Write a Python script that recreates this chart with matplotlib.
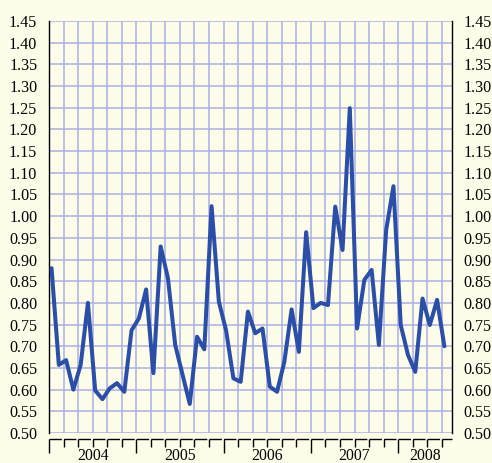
import numpy as np
import matplotlib
matplotlib.use("Agg")
import matplotlib.pyplot as plt
import matplotlib.transforms as mtransforms

# monthly values, Jan 2004 .. Jul 2008
values = [0.88, 0.657, 0.668, 0.60, 0.657, 0.80, 0.598, 0.578, 0.603, 0.615,
          0.595, 0.737, 0.764, 0.831, 0.638, 0.93, 0.857, 0.703, 0.635, 0.567,
          0.722, 0.693, 1.023, 0.803, 0.736, 0.626, 0.618, 0.78, 0.730, 0.741,
          0.607, 0.595, 0.664, 0.785, 0.687, 0.963, 0.788, 0.80, 0.795, 1.022,
          0.922, 1.249, 0.741, 0.853, 0.876, 0.703, 0.968, 1.069, 0.749, 0.68,
          0.641, 0.81, 0.749, 0.807, 0.70]
years = ["2004", "2005", "2006", "2007", "2008"]
y_ticks = np.round(np.arange(0.50, 1.4501, 0.05), 2)

bg = "#fdfde9"
grid_c = "#aab0e6"
line_c = "#2b4fa8"

plt.rcParams['font.family'] = ['Liberation Serif', 'DejaVu Serif']

fig = plt.figure(figsize=(4.92, 4.63), dpi=100, facecolor=bg)
ax = fig.add_axes([49 / 492, 1 - 433 / 463, 403 / 492, 412 / 463])
ax.set_facecolor(bg)

x = np.arange(len(values)) + 0.35
xmax = 55.4
ax.set_xlim(0, xmax)
ax.set_ylim(0.50, 1.45)

# grid: every 2 months and every 0.05
for gx in np.arange(0, xmax, 2):
    ax.axvline(gx, color=grid_c, lw=1.1, zorder=1)
for gy in y_ticks:
    ax.axhline(gy, color=grid_c, lw=1.1, zorder=1)

ax.plot(x, values, color=line_c, lw=2.9, solid_joinstyle='round',
        solid_capstyle='round', zorder=3, clip_on=False)

ax.spines['top'].set_visible(False)
ax.spines['bottom'].set_position(('outward', 4))
for s in ['left', 'right', 'bottom']:
    ax.spines[s].set_linewidth(1.0)
    ax.spines[s].set_color('black')
# little gaps before each tick on the bottom axis line
step_px = 403 / xmax * 2
ax.spines['bottom'].set_linestyle((0, ((step_px - 2.2) * 0.72, 2.2 * 0.72)))
ax.spines['bottom'].set_capstyle('butt')

ax.set_yticks(y_ticks)
ax.set_yticklabels([f"{v:.2f}" for v in y_ticks])
ax.tick_params(axis='y', length=0, pad=8.5, labelsize=11.6,
               left=True, right=True, labelleft=True, labelright=True)

year_pos = np.arange(0, xmax, 12)
ax.set_xticks(year_pos)
ax.set_xticklabels([])
ax.set_xticks(np.arange(0, xmax, 2), minor=True)
ax.tick_params(axis='x', which='major', length=10, width=1.0, direction='out')
ax.tick_params(axis='x', which='minor', length=5.5, width=1.0, direction='out')

trans = mtransforms.blended_transform_factory(ax.transData, ax.transAxes)
for k, label in enumerate(years):
    lo = 12 * k
    hi = min(12 * (k + 1), xmax)
    ax.text((lo + hi) / 2, -23 / 412, label, transform=trans, ha='center',
            va='center', fontsize=11.3)

fig.savefig("out.png", dpi=100, facecolor=bg)
